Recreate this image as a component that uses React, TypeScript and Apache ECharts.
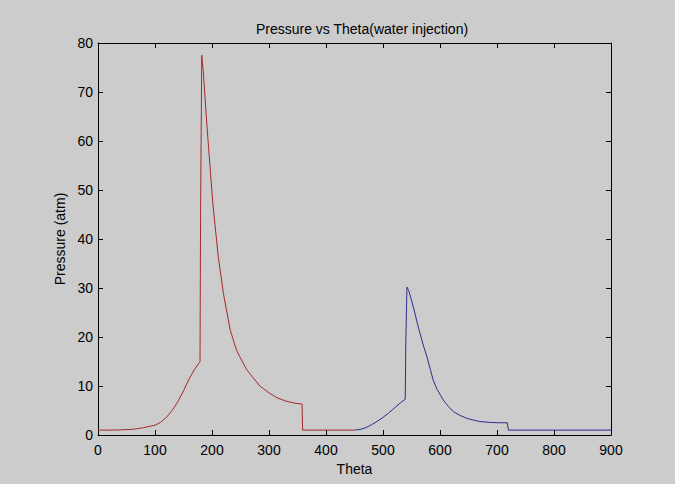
import React, { useEffect, useRef } from "react";
import * as echarts from "echarts";

const titleText = "Pressure vs Theta(water injection)";
const xName = "Theta";
const yName = "Pressure (atm)";

const redTheta = [0, 20, 40, 60, 70, 80, 90, 100, 110, 120, 130, 140, 150, 160, 170, 179, 180, 181, 182, 185, 190, 193, 200, 202, 211, 220, 232, 243, 250, 261, 270, 284, 300, 314, 330, 345, 358, 359, 450];
const redPressure = [1.0, 1.0, 1.05, 1.15, 1.3, 1.5, 1.75, 2.0, 2.6, 3.6, 5.0, 6.8, 9.0, 11.5, 13.5, 15.0, 46.0, 46.0, 77.5, 73.8, 65.0, 60.2, 49.5, 46.6, 36.4, 28.9, 21.4, 17.3, 15.7, 13.3, 12.0, 10.0, 8.6, 7.6, 6.9, 6.5, 6.3, 1.0, 1.0];

const blueTheta = [450, 460, 470, 480, 490, 500, 510, 520, 530, 539, 540, 541, 542, 545, 550, 555, 560, 565, 570, 577, 583, 588, 595, 606, 615, 623, 635, 647, 660, 670, 690, 705, 718, 720, 900];
const bluePressure = [1.0, 1.15, 1.5, 2.1, 2.8, 3.6, 4.5, 5.5, 6.5, 7.3, 18.8, 18.8, 30.2, 29.5, 27.5, 25.3, 22.9, 20.7, 18.6, 16.0, 13.4, 11.2, 9.3, 7.1, 5.8, 4.8, 4.0, 3.4, 3.0, 2.75, 2.55, 2.5, 2.5, 1.0, 1.0];

const FONT = "'Liberation Sans', Arial, sans-serif";

export default function App() {
  const ref = useRef<HTMLDivElement>(null);
  useEffect(() => {
    document.body.style.margin = "0";
    const chart = echarts.init(ref.current!, null, { renderer: "svg" });
    const axisCommon = {
      type: "value" as const,
      axisLine: { show: true, onZero: false, lineStyle: { color: "#000", width: 1 } },
      axisTick: { show: true, inside: true, length: 5, lineStyle: { color: "#000" } },
      splitLine: { show: false },
    };
    const labelStyle = { color: "#000", fontFamily: FONT, fontSize: 14 };
    chart.setOption({
      animation: false,
      backgroundColor: "#cccccc",
      title: {
        text: titleText,
        left: 357,
        top: 17,
        textAlign: "center",
        textStyle: { color: "#000", fontFamily: FONT, fontSize: 14, fontWeight: "normal" },
      },
      grid: { left: 98, right: 64, top: 43, bottom: 49, containLabel: false },
      xAxis: [
        {
          ...axisCommon,
          position: "bottom",
          min: 0,
          max: 900,
          interval: 100,
          name: xName,
          nameLocation: "middle",
          nameGap: 26,
          nameTextStyle: labelStyle,
          axisLabel: { ...labelStyle, margin: 8 },
        },
        {
          ...axisCommon,
          position: "top",
          min: 0,
          max: 900,
          interval: 100,
          axisLabel: { show: false },
        },
      ],
      yAxis: [
        {
          ...axisCommon,
          position: "left",
          min: 0,
          max: 80,
          interval: 10,
          name: yName,
          nameLocation: "middle",
          nameGap: 31,
          nameTextStyle: labelStyle,
          axisLabel: { ...labelStyle, margin: 5 },
        },
        {
          ...axisCommon,
          position: "right",
          min: 0,
          max: 80,
          interval: 10,
          axisLabel: { show: false },
        },
      ],
      series: [
        {
          type: "line",
          xAxisIndex: 0,
          yAxisIndex: 0,
          showSymbol: false,
          lineStyle: { color: "#a52a2a", width: 1 },
          itemStyle: { color: "#a52a2a" },
          data: redTheta.map((t, i) => [t, redPressure[i]]),
        },
        {
          type: "line",
          xAxisIndex: 0,
          yAxisIndex: 0,
          showSymbol: false,
          lineStyle: { color: "#2e2e8c", width: 1 },
          itemStyle: { color: "#2e2e8c" },
          data: blueTheta.map((t, i) => [t, bluePressure[i]]),
        },
      ],
    });
    return () => chart.dispose();
  }, []);
  return (
    <div
      ref={ref}
      style={{ position: "fixed", left: 0, top: 0, width: 675, height: 484 }}
    />
  );
}
